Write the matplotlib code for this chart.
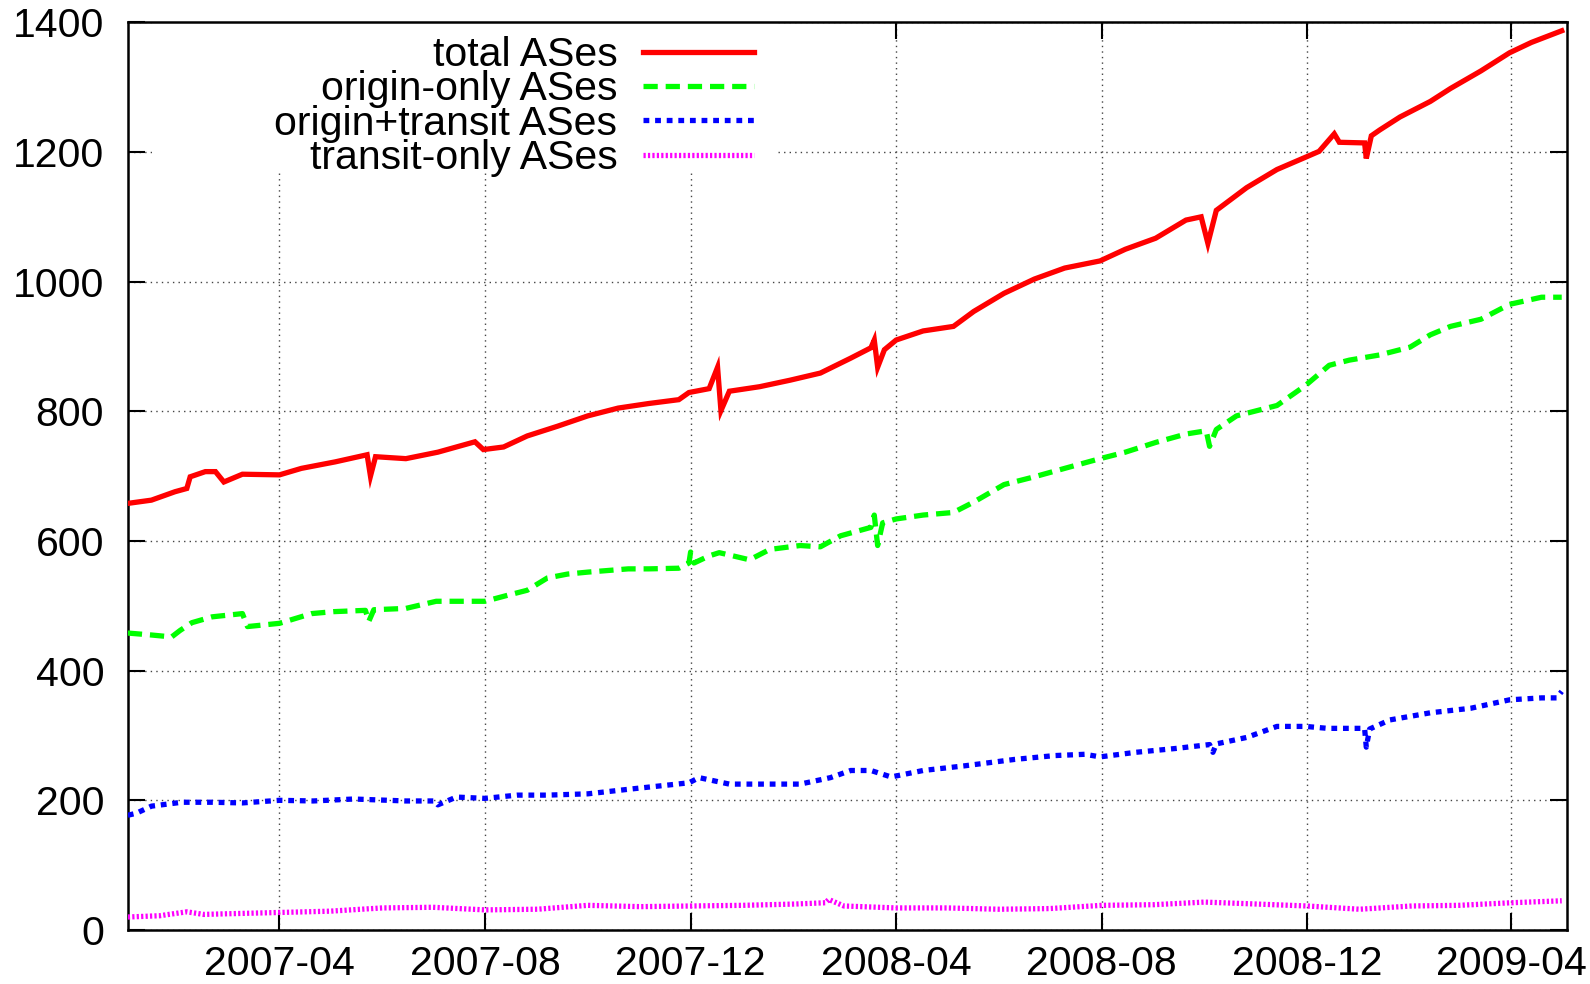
import pandas as pd
import matplotlib.pyplot as plt
import matplotlib.dates as mdates
from matplotlib.patches import Rectangle

plt.rcParams['font.family'] = ['Liberation Sans', 'DejaVu Sans']

# total ASes
total_dates = ["2007-01-01", "2007-01-15", "2007-01-29", "2007-02-05", "2007-02-07", "2007-02-16",
               "2007-02-22", "2007-02-27", "2007-03-10", "2007-04-01", "2007-04-14", "2007-05-04",
               "2007-05-23", "2007-05-25", "2007-05-28", "2007-06-15", "2007-07-04", "2007-07-26",
               "2007-07-31", "2007-08-12", "2007-08-26", "2007-09-13", "2007-10-01", "2007-10-19",
               "2007-11-06", "2007-11-24", "2007-11-30", "2007-12-12", "2007-12-17", "2007-12-19",
               "2007-12-24", "2008-01-11", "2008-01-29", "2008-02-16", "2008-03-05", "2008-03-17",
               "2008-03-19", "2008-03-21", "2008-03-25", "2008-04-01", "2008-04-17", "2008-05-05",
               "2008-05-17", "2008-06-04", "2008-06-22", "2008-07-10", "2008-07-31", "2008-08-15",
               "2008-09-02", "2008-09-20", "2008-09-29", "2008-10-03", "2008-10-08", "2008-10-26",
               "2008-11-13", "2008-11-30", "2008-12-08", "2008-12-17", "2008-12-20", "2009-01-04",
               "2009-01-05", "2009-01-08", "2009-01-13", "2009-01-25", "2009-02-12", "2009-02-24",
               "2009-03-14", "2009-03-31", "2009-04-13", "2009-05-01"]
total_vals = [658, 663, 676, 681, 699, 707,
              707, 691, 703, 702, 712, 722,
              733, 700, 730, 727, 737, 753,
              741, 745, 762, 777, 793, 805,
              812, 818, 829, 835, 868, 801,
              831, 838, 848, 859, 882, 898,
              910, 868, 895, 910, 924, 931,
              954, 982, 1004, 1021, 1032, 1050,
              1067, 1095, 1100, 1059, 1110, 1145,
              1173, 1192, 1201, 1228, 1215, 1214,
              1190, 1225, 1234, 1254, 1278, 1298,
              1325, 1353, 1369, 1387]

# origin-only ASes
origin_dates = ["2007-01-01", "2007-01-15", "2007-01-27", "2007-02-01", "2007-02-08", "2007-02-20",
                "2007-03-10", "2007-03-13", "2007-04-01", "2007-04-20", "2007-05-03", "2007-05-22",
                "2007-05-24", "2007-05-27", "2007-06-15", "2007-07-03", "2007-08-01", "2007-08-14",
                "2007-08-26", "2007-09-07", "2007-09-19", "2007-10-01", "2007-10-25", "2007-11-06",
                "2007-11-24", "2007-11-30", "2007-12-01", "2007-12-03", "2007-12-12", "2007-12-18",
                "2008-01-05", "2008-01-17", "2008-02-04", "2008-02-16", "2008-02-28", "2008-03-17",
                "2008-03-19", "2008-03-21", "2008-03-24", "2008-04-01", "2008-04-17", "2008-05-05",
                "2008-05-17", "2008-06-04", "2008-06-22", "2008-07-10", "2008-07-31", "2008-08-15",
                "2008-09-02", "2008-09-20", "2008-10-02", "2008-10-04", "2008-10-08", "2008-10-20",
                "2008-11-13", "2008-11-30", "2008-12-14", "2008-12-26", "2009-01-13", "2009-01-31",
                "2009-02-12", "2009-02-24", "2009-03-14", "2009-03-31", "2009-04-19", "2009-05-01"]
origin_vals = [458, 455, 452, 462, 474, 483,
               488, 468, 473, 488, 491, 493,
               476, 494, 496, 507, 507, 516,
               524, 543, 549, 552, 557, 557,
               558, 566, 583, 566, 577, 582,
               571, 587, 593, 591, 608, 621,
               640, 593, 628, 634, 640, 644,
               660, 687, 699, 712, 727, 737,
               752, 765, 770, 746, 772, 793,
               809, 840, 871, 879, 887, 899,
               918, 931, 942, 965, 976, 976]

# origin+transit ASes
both_dates = ["2007-01-01", "2007-01-06", "2007-01-15", "2007-02-02", "2007-02-20", "2007-03-10",
              "2007-04-01", "2007-04-21", "2007-05-15", "2007-06-15", "2007-07-02", "2007-07-04",
              "2007-07-15", "2007-08-01", "2007-08-20", "2007-09-07", "2007-10-01", "2007-10-25",
              "2007-11-12", "2007-11-30", "2007-12-06", "2007-12-24", "2008-01-17", "2008-02-04",
              "2008-02-22", "2008-03-05", "2008-03-17", "2008-03-29", "2008-04-17", "2008-05-11",
              "2008-06-10", "2008-07-04", "2008-07-22", "2008-07-31", "2008-08-21", "2008-09-14",
              "2008-10-04", "2008-10-06", "2008-10-08", "2008-10-26", "2008-11-13", "2008-11-30",
              "2008-12-13", "2009-01-04", "2009-01-05", "2009-01-07", "2009-01-19", "2009-02-12",
              "2009-03-08", "2009-03-31", "2009-04-19", "2009-04-28", "2009-05-01"]
both_vals = [177, 180, 191, 197, 197, 196,
             200, 199, 202, 199, 199, 193,
             205, 203, 208, 208, 210, 217,
             222, 227, 235, 225, 225, 225,
             235, 246, 246, 236, 246, 253,
             263, 269, 271, 267, 274, 280,
             286, 274, 287, 297, 314, 314,
             311, 311, 282, 310, 324, 335,
             342, 355, 358, 358, 368]

# transit-only ASes
transit_dates = ["2007-01-01", "2007-01-20", "2007-02-05", "2007-02-15", "2007-03-01", "2007-04-01",
                 "2007-05-01", "2007-06-01", "2007-07-01", "2007-08-01", "2007-09-01", "2007-10-01",
                 "2007-11-01", "2007-12-01", "2008-01-01", "2008-02-01", "2008-02-19", "2008-02-21",
                 "2008-03-01", "2008-04-01", "2008-05-01", "2008-06-01", "2008-07-01", "2008-08-01",
                 "2008-09-01", "2008-10-01", "2008-11-01", "2008-12-01", "2009-01-01", "2009-02-01",
                 "2009-03-01", "2009-04-01", "2009-05-01"]
transit_vals = [20, 22, 28, 24, 25, 27,
                29, 34, 35, 31, 32, 38,
                36, 37, 38, 40, 42, 47,
                37, 34, 34, 32, 33, 38,
                39, 43, 40, 37, 32, 37,
                38, 42, 45]

fig = plt.figure(figsize=(15.9, 9.84), dpi=100)
ax = fig.add_axes([0.0804, 0.0549, 0.905, 0.9224])

lw = 3.8
ax.plot(pd.to_datetime(total_dates), total_vals, color="#ff0000", lw=lw,
        solid_joinstyle="miter", label="total ASes", zorder=3)
ax.plot(pd.to_datetime(origin_dates), origin_vals, color="#00ff00", lw=lw,
        linestyle=(0, (2.7, 1.5)), label="origin-only ASes", zorder=3)
ax.plot(pd.to_datetime(both_dates), both_vals, color="#0000ff", lw=lw,
        linestyle=(0, (1.1, 1.1)), label="origin+transit ASes", zorder=3)
ax.plot(pd.to_datetime(transit_dates), transit_vals, color="#ff00ff", lw=lw,
        linestyle=(0, (0.42, 0.42)), label="transit-only ASes", zorder=3)

ax.set_xlim(pd.Timestamp("2007-01-01"), pd.Timestamp("2009-05-04"))
ax.set_ylim(0, 1400)
ax.set_yticks(range(0, 1401, 200))
ax.xaxis.set_major_locator(mdates.MonthLocator(bymonth=[4, 8, 12]))
ax.xaxis.set_major_formatter(mdates.DateFormatter("%Y-%m"))

ax.tick_params(direction="in", length=12, width=1.5, labelsize=29.5,
               top=True, right=True, labeltop=False, labelright=False)
ax.tick_params(axis="y", pad=17)
ax.tick_params(axis="x", pad=11)
for s in ax.spines.values():
    s.set_linewidth(1.8)

ax.set_axisbelow(True)
ax.grid(True, color="#444444", linestyle=(0, (1, 3)), linewidth=1.0)

# opaque key area like gnuplot
ax.add_patch(Rectangle((0.017, 0.835), 0.433, 0.165, transform=ax.transAxes,
                       facecolor="white", edgecolor="none", zorder=1))

ax.legend(loc="upper right", bbox_to_anchor=(0.458, 1.021), frameon=False,
          markerfirst=False, fontsize=29.5, handlelength=2.72, handletextpad=0.62,
          labelspacing=-0.09, borderpad=0.3)

plt.savefig("out.png", dpi=100)
